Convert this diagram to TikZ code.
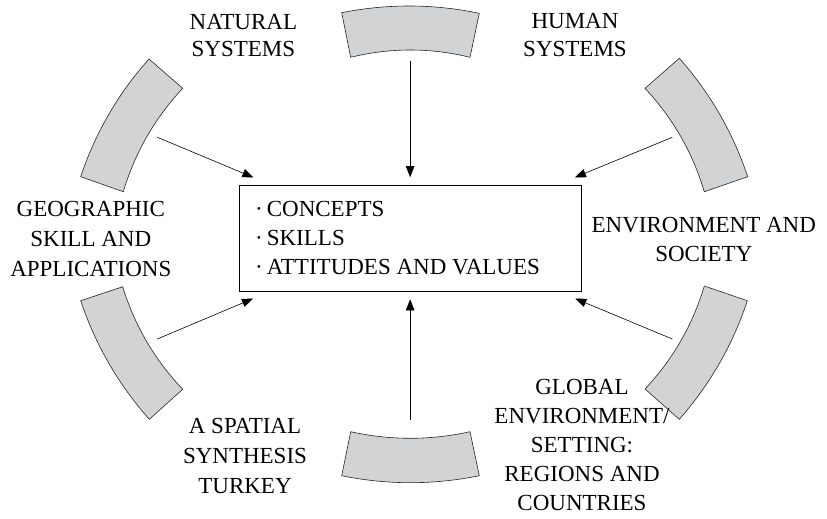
\documentclass[tikz,border=0pt]{standalone}
\usepackage{fontspec}
\setmainfont{Liberation Serif}
\usetikzlibrary{arrows.meta,calc}
\definecolor{segcol}{RGB}{209,211,212}
\begin{document}
\begin{tikzpicture}[x=1pt,y=-1pt,
  seg/.style={fill=segcol,draw=black!85,line width=0.6pt},
  conn/.style={-{Triangle[length=11pt,width=8.5pt]},line width=0.6pt},
  lbl/.style={font=\fontsize{23}{29}\selectfont,align=center,anchor=base,inner sep=0pt}]
\useasboundingbox (0,0) rectangle (827,519);
% segments (quadratic arcs written as cubics)
\draw[seg] (341.7,12.7) .. controls (387.57,3.57) and (433.43,3.77) .. (479.3,13.3)
  -- (470,57.3) .. controls (430.23,47.57) and (390.47,47.57) .. (350.7,57.3) -- cycle;
\draw[seg] (350.7,431.7) .. controls (390.47,440.5) and (430.23,440.5) .. (470,431.7)
  -- (479.3,475.7) .. controls (433.43,485.03) and (387.57,485.03) .. (341.7,475.7) -- cycle;
\draw[seg] (149,59) .. controls ($(149,59)!2/3!(102.7,110.8)$) and ($(80.7,176.7)!2/3!(102.7,110.8)$) .. (80.7,176.7)
  -- (123.3,191.7) .. controls ($(123.3,191.7)!2/3!(140.9,133)$) and ($(182.7,88.3)!2/3!(140.9,133)$) .. (182.7,88.3) -- cycle;
\draw[seg] (679.3,58.3) .. controls ($(679.3,58.3)!2/3!(725.6,110.5)$) and ($(747.7,176.7)!2/3!(725.6,110.5)$) .. (747.7,176.7)
  -- (704.3,191.7) .. controls ($(704.3,191.7)!2/3!(686.8,133)$) and ($(645,88.3)!2/3!(686.8,133)$) .. (645,88.3) -- cycle;
\draw[seg] (80.7,300.7) .. controls ($(80.7,300.7)!2/3!(102.9,367)$) and ($(149.3,419.3)!2/3!(102.9,367)$) .. (149.3,419.3)
  -- (182.7,389.3) .. controls ($(182.7,389.3)!2/3!(140.6,345)$) and ($(122.7,286.7)!2/3!(140.6,345)$) .. (122.7,286.7) -- cycle;
\draw[seg] (747.3,300.7) .. controls ($(747.3,300.7)!2/3!(725.4,367)$) and ($(679.3,419.3)!2/3!(725.4,367)$) .. (679.3,419.3)
  -- (645,389) .. controls ($(645,389)!2/3!(686.8,344.5)$) and ($(704.3,286)!2/3!(686.8,344.5)$) .. (704.3,286) -- cycle;
% central box
\node[draw,line width=0.6pt,minimum width=341.7pt,minimum height=106.7pt,inner sep=0pt] (box) at (410.15,238.35) {};
\node[anchor=base west,font=\fontsize{23}{28.7}\selectfont,align=left,inner sep=0pt] (list) at (255,274)
  {\textperiodcentered\hspace{4pt}CONCEPTS\\\textperiodcentered\hspace{4pt}SKILLS\\\textperiodcentered\hspace{4pt}ATTITUDES AND VALUES};
% labels (anchored at the baseline of the last line)
\node[lbl,font=\fontsize{23}{27.5}\selectfont] (natural) at (243.4,56.8) {NATURAL\\SYSTEMS};
\node[lbl,font=\fontsize{23}{28.3}\selectfont] (human) at (575,56.8) {HUMAN\\SYSTEMS};
\node[lbl,font=\fontsize{23}{29.7}\selectfont] (geo) at (90.8,276.1) {GEOGRAPHIC\\SKILL AND\\APPLICATIONS};
\node[lbl,font=\fontsize{23}{28.5}\selectfont] (env) at (703.8,261.2) {ENVIRONMENT AND\\SOCIETY};
\node[lbl,font=\fontsize{23}{30}\selectfont] (spatial) at (245,493.3) {A SPATIAL\\SYNTHESIS\\TURKEY};
\node[lbl,font=\fontsize{23}{29}\selectfont] (global) at (582,510.5) {GLOBAL\\ENVIRONMENT/\\SETTING:\\REGIONS AND\\COUNTRIES};
% arrow start points
\coordinate (sT) at (410.15,61);
\coordinate (sB) at (410.15,420);
\coordinate (sUL) at (157.3,137.3);
\coordinate (sUR) at (672.3,137.3);
\coordinate (sLL) at (157.3,339);
\coordinate (sLR) at (672.3,339);
% arrows
\draw[conn] (sT) -- ($(box.north)+(0,-7.5)$);
\draw[conn] (sB) -- ($(box.south)+(0,7.3)$);
\draw[conn] (sUL) -- ($(box.north west)+(14.4,-7.3)$);
\draw[conn] (sUR) -- ($(box.north east)+(-6.4,-7.3)$);
\draw[conn] (sLL) -- ($(box.south west)+(14,6.6)$);
\draw[conn] (sLR) -- ($(box.south east)+(-6,6.6)$);
\end{tikzpicture}
\end{document}
